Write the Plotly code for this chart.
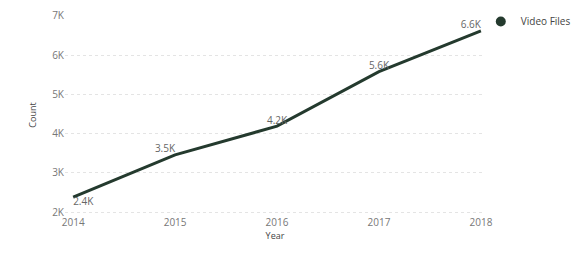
import plotly.graph_objects as go

years = [2014, 2015, 2016, 2017, 2018]
counts = [2380, 3460, 4190, 5580, 6620]
series_name = "Video Files"
y_ticks = [2000, 3000, 4000, 5000, 6000, 7000]
y_tick_labels = ["2K", "3K", "4K", "5K", "6K", "7K"]

labels = [f"{v/1000:.1f}K" for v in counts]
line_color = "#243a2e"

fig = go.Figure()
fig.add_trace(go.Scatter(
    x=years, y=counts, mode="lines+text", text=labels,
    textposition=["bottom right", "top left", "top center", "top center", "top left"],
    textfont=dict(size=10, color="#666666", family="Open Sans"),
    line=dict(color=line_color, width=3), showlegend=False, cliponaxis=False,
))
fig.add_trace(go.Scatter(
    x=[None], y=[None], mode="markers", name=series_name,
    marker=dict(color=line_color, size=10, symbol="circle"),
))

# page body has an 8px margin; size the figure to fill the rest of the window
fig.update_layout(
    template="none",
    width=573, height=251,
    margin=dict(l=57, r=96, t=7, b=44, autoexpand=False),
    plot_bgcolor="white", paper_bgcolor="white",
    font=dict(family="Open Sans", size=10, color="#777777"),
    legend=dict(x=0.99, y=1.04, xanchor="left", yanchor="top",
                font=dict(size=10, color="#444444"), itemwidth=30,
                tracegroupgap=0, bgcolor="rgba(0,0,0,0)"),
    xaxis=dict(range=[2013.92, 2018.04], tickvals=years, ticktext=[str(y) for y in years],
               showgrid=False, zeroline=False, showline=False, ticks="", automargin=False,
               title=dict(text="Year", font=dict(size=9, color="#444444"), standoff=4),
               tickfont=dict(size=10, color="#777777")),
    yaxis=dict(range=[1925, 7025], tickvals=y_ticks, ticktext=y_tick_labels,
               showgrid=True, gridcolor="#e4e4e4", griddash="dot", gridwidth=1,
               zeroline=False, showline=False, ticks="", automargin=False,
               ticklabeloverflow="allow",
               title=dict(text="Count", font=dict(size=9, color="#444444"), standoff=14),
               tickfont=dict(size=10, color="#777777")),
)
fig.write_html("out.html")
